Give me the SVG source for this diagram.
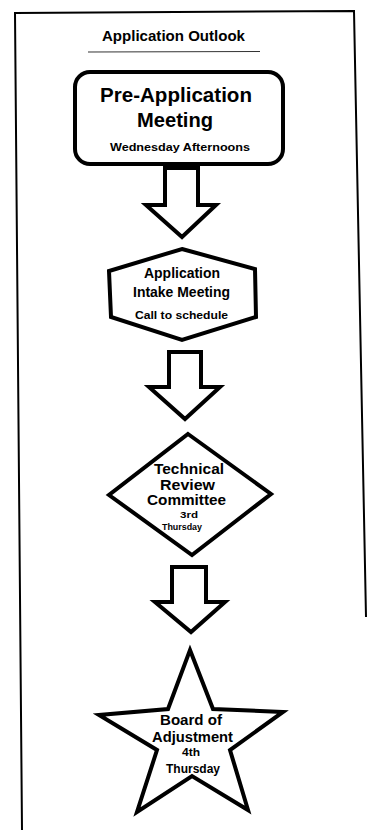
<svg xmlns="http://www.w3.org/2000/svg" width="367" height="830" viewBox="0 0 367 830">
<style>
.frame{fill:none;stroke:#000;stroke-width:2}
.node{fill:#fff;stroke:#000;stroke-width:4}
.arrow{fill:#fff;stroke:#000;stroke-width:4;stroke-linejoin:miter}
text{font-family:"Liberation Sans",Arial,Helvetica,sans-serif;font-weight:bold;fill:#000;text-anchor:middle}
</style>
<rect width="367" height="830" fill="#fff"/>
<g id="frame">
<polyline class="frame" points="22,830 15,13 354,11 366,617"/>
</g>
<g id="title">
<text x="173.5" y="41" font-size="14" textLength="143" lengthAdjust="spacingAndGlyphs">Application Outlook</text>
<line x1="88" y1="52" x2="260" y2="51.5" stroke="#333" stroke-width="1"/>
</g>
<g id="connectors">
<polygon class="arrow" points="165,168 198,168 198,205 216,205 182,237 146,205 165,205"/>
<polygon class="arrow" points="169,352 201,352 201,387 220,387 185,419 149,387 169,387"/>
<polygon class="arrow" points="172,567 206,567 206,602 225,602 191,632 155,602 172,602"/>
</g>
<g id="pre-application">
<rect class="node" x="75" y="72" width="208" height="92" rx="15"/>
<text x="176" y="102" font-size="20.5" textLength="152" lengthAdjust="spacingAndGlyphs">Pre-Application</text>
<text x="175" y="127" font-size="20.5" textLength="76" lengthAdjust="spacingAndGlyphs">Meeting</text>
<text x="180" y="150.5" font-size="10.5" textLength="140" lengthAdjust="spacingAndGlyphs">Wednesday Afternoons</text>
</g>
<g id="intake">
<polygon class="node" points="182,249 255,269 256,317 182,340 111,317 109,271"/>
<text x="182" y="278" font-size="14" textLength="76" lengthAdjust="spacingAndGlyphs">Application</text>
<text x="181.5" y="297" font-size="14" textLength="97" lengthAdjust="spacingAndGlyphs">Intake Meeting</text>
<text x="181.5" y="319" font-size="10" textLength="93" lengthAdjust="spacingAndGlyphs">Call to schedule</text>
</g>
<g id="technical-review">
<polygon class="node" points="188,434 271,494 192,555 109,495"/>
<text x="189" y="474" font-size="14.5" textLength="70" lengthAdjust="spacingAndGlyphs">Technical</text>
<text x="187.5" y="490" font-size="14.5" textLength="55" lengthAdjust="spacingAndGlyphs">Review</text>
<text x="186.5" y="505" font-size="14.5" textLength="79" lengthAdjust="spacingAndGlyphs">Committee</text>
<text x="189" y="518" font-size="9" textLength="18" lengthAdjust="spacingAndGlyphs">3rd</text>
<text x="182" y="530" font-size="9.5" textLength="40" lengthAdjust="spacingAndGlyphs">Thursday</text>
</g>
<g id="board-of-adjustment">
<polygon class="node" points="190,650 213,709 283,712 230,750 248,810 192,776 137,812 157,750 99,715 168,709"/>
<text x="191" y="725" font-size="14.5" textLength="62" lengthAdjust="spacingAndGlyphs">Board of</text>
<text x="192.5" y="742" font-size="14.5" textLength="81" lengthAdjust="spacingAndGlyphs">Adjustment</text>
<text x="191" y="756" font-size="10" textLength="18" lengthAdjust="spacingAndGlyphs">4th</text>
<text x="193" y="773" font-size="12" textLength="54" lengthAdjust="spacingAndGlyphs">Thursday</text>
</g>
</svg>
